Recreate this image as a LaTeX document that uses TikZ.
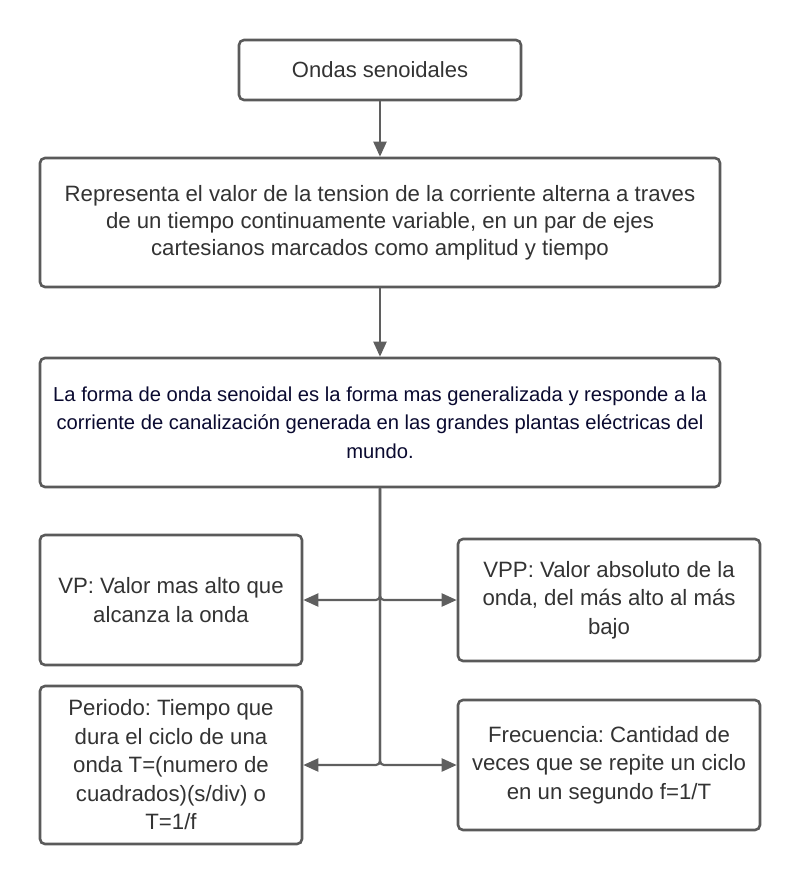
\documentclass[tikz,border=0pt]{standalone}
\usepackage{fontspec}
\setmainfont{Liberation Sans}
\usetikzlibrary{arrows.meta}
\frenchspacing

\definecolor{bordegris}{RGB}{90,90,90}
\definecolor{lineagris}{RGB}{95,95,95}
\definecolor{textogris}{RGB}{51,51,51}
\definecolor{textoazul}{RGB}{10,10,48}

\tikzset{
	caja/.style={draw=bordegris, line width=2.6pt, rounded corners=5pt, fill=white,
		align=center, text=textogris, inner sep=0pt, font=\fontsize{22.2}{28.5}\selectfont},
	flecha/.style={draw=lineagris, line width=2.2pt, -{Triangle[length=15pt,width=13pt]}},
}

\begin{document}
\begin{tikzpicture}[x=1pt,y=-1pt]
	\useasboundingbox (0,0) rectangle (800,884);
	\node[caja, minimum width=282pt, minimum height=60pt, font=\fontsize{22}{26}\selectfont] (ondas) at (380,70) {Ondas senoidales};
	\node[caja, minimum width=680pt, minimum height=129pt, font=\fontsize{22.2}{27}\selectfont] (representa) at (380,222.5)
		{Representa el valor de la tension de la corriente alterna a traves\\
		de un tiempo continuamente variable, en un par de ejes\\
		cartesianos marcados como amplitud y tiempo};
	\node[caja, minimum width=680pt, minimum height=129pt, text=textoazul, font=\fontsize{20.2}{28.5}\selectfont] (forma) at (380,422.5)
		{La forma de onda senoidal es la forma mas generalizada y responde a la\\
		corriente de canalización generada en las grandes plantas eléctricas del\\
		mundo.};
	\node[caja, minimum width=262pt, minimum height=130pt] (vp) at (171,600)
		{VP: Valor mas alto que\\ alcanza la onda};
	\node[caja, minimum width=302pt, minimum height=122pt] (vpp) at (609,600)
		{VPP: Valor absoluto de la\\ onda, del más alto al más\\ bajo};
	\node[caja, minimum width=262pt, minimum height=158pt] (periodo) at (171,765)
		{Periodo: Tiempo que\\ dura el ciclo de una\\ onda T=(numero de\\ cuadrados)(s/div) o\\ T=1/f};
	\node[caja, minimum width=302pt, minimum height=130pt] (frecuencia) at (609,765)
		{Frecuencia: Cantidad de\\ veces que se repite un ciclo\\ en un segundo f=1/T};

	\draw[flecha] (ondas) -- (representa);
	\draw[flecha] (representa) -- (forma);
	\foreach \destino/\lado in {vp/east, vpp/west, periodo/east, frecuencia/west} {
		\draw[flecha, rounded corners=4pt] (forma.south) |- (\destino.\lado);
	}
\end{tikzpicture}
\end{document}
